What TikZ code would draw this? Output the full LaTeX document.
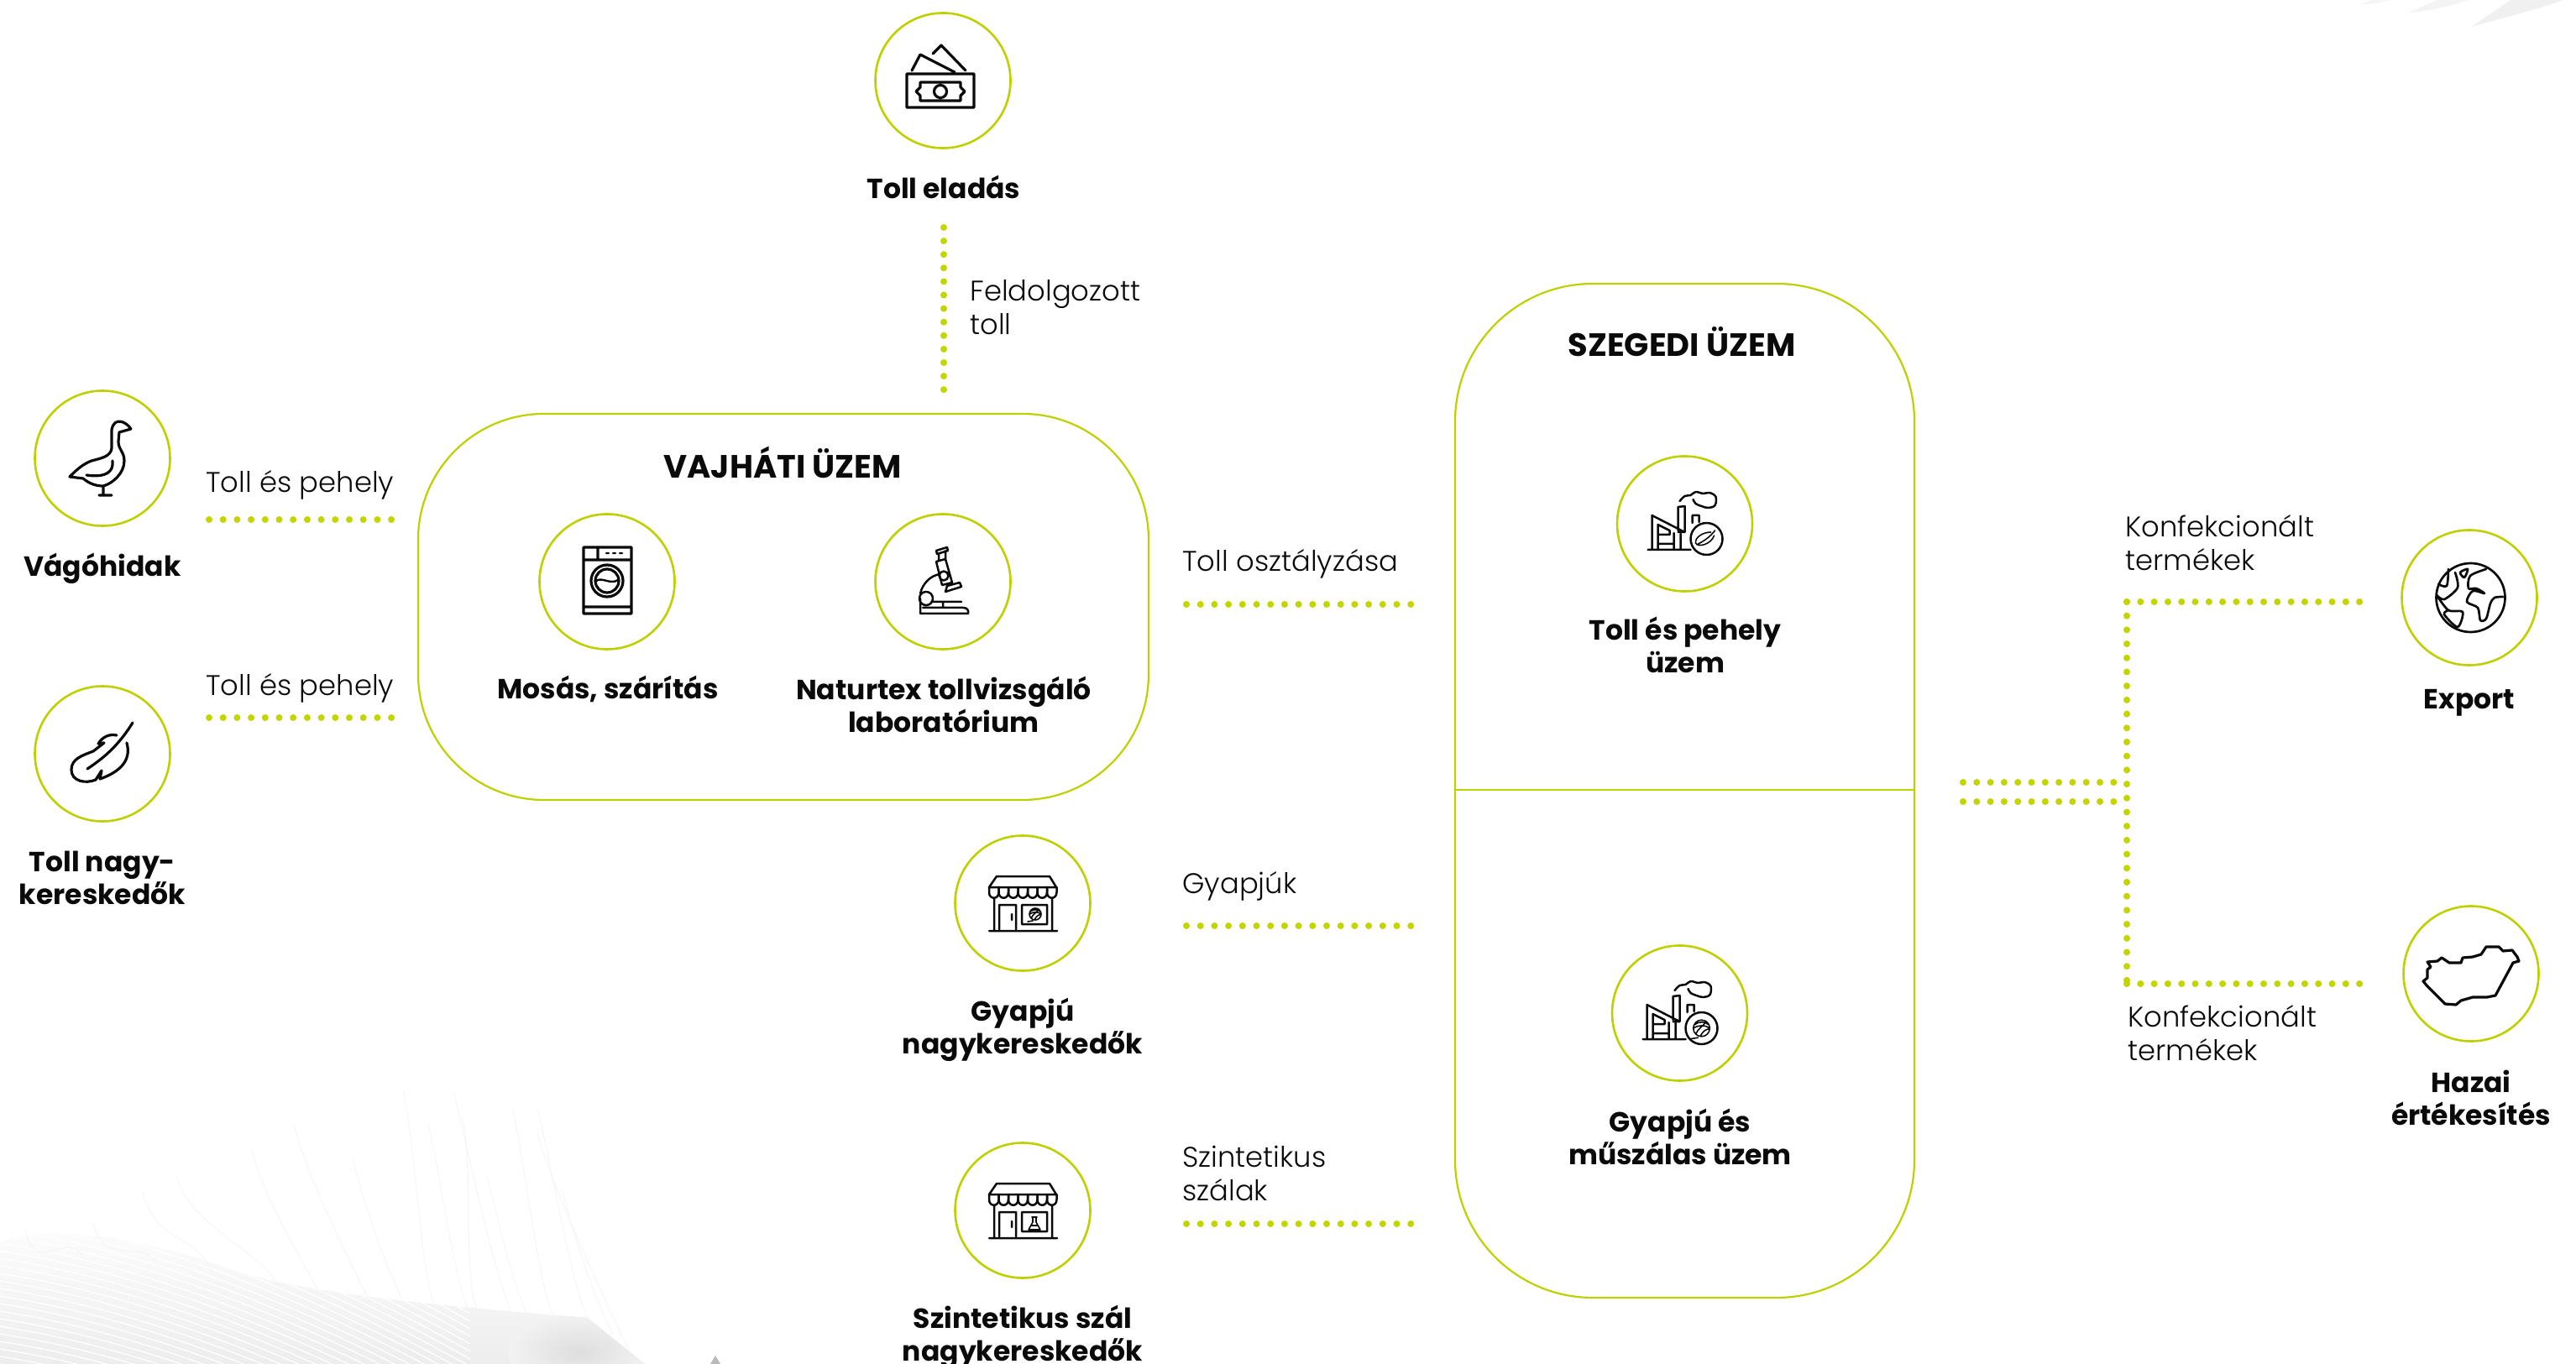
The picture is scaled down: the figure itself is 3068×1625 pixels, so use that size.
\documentclass[tikz,border=0pt]{standalone}
\usepackage{fontspec}
\setmainfont{Poppins}[UprightFont=* Light, BoldFont=* Bold]
\usetikzlibrary{positioning}
\definecolor{lime}{HTML}{C2D500}
\definecolor{ring}{HTML}{BFD000}
\definecolor{ink}{HTML}{0A0A0A}

\tikzset{
  % Box and label styles
  disc/.style={circle, draw=ring, line width=1.3pt, minimum size=80.5pt, inner sep=0pt},
  plant/.style={rectangle, draw=ring, line width=1.1pt, inner sep=0pt},
  head/.style={anchor=base, align=center, inner sep=0pt, text=ink,
    font=\fontsize{16.5}{19.5}\selectfont\bfseries},
  title/.style={head, font=\fontsize{19.2}{24}\selectfont\bfseries},
  flow/.style={anchor=base west, align=left, inner sep=0pt, text=ink,
    font=\fontsize{16.9}{20}\selectfont},
  % Connector and icon line styles
  dots/.style={draw=lime, line width=4pt, line cap=round, dash pattern=on 0pt off 8.35pt},
  tightdots/.style={dots, dash pattern=on 0pt off 8.15pt},
  icon/.style={draw=ink, line width=1.6pt, line join=round, line cap=round},
  fineicon/.style={icon, line width=1.25pt},
  thin/.style={draw=ink, line width=0.8pt, line join=round, line cap=round},
  % Icons, in reference pixels round the centre of their disc
  gooseicon/.pic={
    \draw[icon] (34,-35) .. controls (28,-44) and (14,-50) .. (11,-34) -- (11,-12)
      .. controls (10,-2) and (-2,0) .. (-13,3) .. controls (-24,7) and (-32,15) .. (-39,22)
      -- (-23,24) .. controls (-16,30) and (-8,33) .. (1,33) -- (1,44)
      (-4,44) -- (11,44)
      (1,33) .. controls (12,30) and (26,18) .. (26,3) .. controls (26,-8) and (19,-10) .. (19,-20)
      -- (20,-31) -- (34,-35)
      (-19,20) .. controls (-6,22) and (14,22) .. (12,3);
  },
  feathericon/.pic={
    \draw[icon] (36,-37) .. controls (18,-8) and (0,6) .. (-18,18)
      (17,-22) .. controls (8,-24) and (0,-20) .. (-5,-12) -- (2,-13) -- (-11,-3)
      .. controls (-24,2) and (-37,6) .. (-37,19) .. controls (-37,33) and (-20,36) .. (-8,31)
      -- (-1,20) -- (-3,30) .. controls (14,24) and (36,12) .. (29,-13);
  },
  moneyicon/.pic={
    \draw[icon] (-43,-8) rectangle (37,32)
      (-32,13) -- (-27,8) -- (-27,2) -- (21,2) -- (21,8) -- (26,13) -- (21,18) -- (21,24)
      -- (-27,24) -- (-27,18) -- cycle
      (-3,13) circle (7.5)
      (-37,-12) -- (-27,-31) -- (14,-10)
      (-12,-32) -- (-2,-42) -- (27,-12);
  },
  washicon/.pic={
    \draw[icon] (-28,-41) rectangle (29,38)
      (-28,-26) -- (29,-26) (-11,-41) -- (-11,-26) (-28,30) -- (29,30)
      (0,-1) circle (19) (0,-1) circle (14);
    \draw[thin, line width=1.2pt] (-1,-34) -- (2,-34) (7,-34) -- (10,-34) (15,-34) -- (18,-34)
      (-13,-1) .. controls (-6,-6) and (4,4) .. (13,-2);
  },
  scopeicon/.pic={
    \draw[fineicon] (-27,20) -- (-27,38) -- (30,38) .. controls (31,33) and (28,31) .. (24,31) -- (-24,31)
      (-14,24) -- (22,24) (0,24) -- (0,31)
      (-27,14) .. controls (-24,2) and (-15,-7) .. (-4,-9)
      (-8,-24) -- (3,-27) -- (11,1) -- (-1,4) -- cycle
      (3,12) -- (22,6) -- (20,1) -- (5,5) -- cycle
      (-8,-37) -- (5,-41) -- (6,-37) -- (-7,-33) -- cycle
      (-5,-33) -- (-5,-25) (3,-37) -- (3,-27)
      (1,-7) circle (5.5) (-20,20) circle (8);
  },
  shopbase/.pic={
    \draw[fineicon] (-31,-32) -- (32,-32) -- (40,-19) -- (-40,-19) -- cycle
      (-34,-6) -- (-34,33) (35,-6) -- (35,33) (-40,33) -- (41,33)
      (-28,31) -- (-28,2) -- (-8,2) -- (-8,31) (-1,2) rectangle (29,25) (-13,13) -- (-13,20);
    \foreach \sx in {-40,-28.5,-17,-5.5,6,17.5,29}
      \draw[fineicon] (\sx,-19) -- (\sx,-13) .. controls (\sx,-4) and (\sx+11.5,-4) .. (\sx+11.5,-13) -- (\sx+11.5,-19);
  },
  factorybase/.pic={
    \draw[fineicon] (-44,31) -- (7,31) (-39,31) -- (-39,-10) -- (0,10) -- (-8,10) (-5,12) -- (-5,31)
      (-8,8) -- (-8,-20) -- (0,-21) -- (0,10)
      (-32,31) -- (-32,1) -- (-18,8) -- (-18,13) -- (-32,13)
      (-32,24) -- (-13,24) -- (-13,31) (-13,11) -- (-13,24)
      (9,-1) -- (9,-10) -- (17,-10) -- (17,-2)
      (26,18) circle (19);
    \draw[fineicon] plot[smooth, tension=0.6] coordinates {(-6,-27) (0,-33) (7,-34) (13,-38) (22,-36)
      (30,-37) (37,-32) (36,-22) (28,-19) (20,-21) (13,-24) (10,-29)};
  },
  leafmark/.pic={
    \draw[thin] (10,-10) .. controls (4,-2) and (-4,3) .. (-10,6)
      (5,-8) .. controls (-4,-8) and (-14,-2) .. (-13,5) .. controls (-10,11) and (6,6) .. (9,-4);
  },
  woolmark/.pic={
    \draw[thin] (0,0) circle (7) (-6,-3) .. controls (-2,-6) and (3,-6) .. (6,-3)
      (-7,0) .. controls (-2,-3) and (3,-3) .. (7,0) (-5,5) .. controls (-3,0) and (2,-2) .. (4,-6)
      (-1,7) .. controls (1,2) and (5,0) .. (7,1) (-9,9) -- (-3,8);
  },
  flaskmark/.pic={
    \draw[thin] (-3,-8) -- (3,-8) (-2,-8) -- (-2,-2) -- (-7,7) -- (7,7) -- (2,-2) -- (2,-8)
      (-4,2) -- (4,2);
  },
  globeicon/.pic={
    \draw[icon, line width=1.35pt] (1.5,0) circle (41);
    \draw[icon, line width=1.35pt] plot[smooth, tension=0.5] coordinates {(40,-1) (30,0) (25,7) (20,25) (13,27) (10,12)
      (-3,5) (4,-8) (18,-5) (8,-11) (-1,-11) (1,-26) (20,-34)};
    \draw[icon, line width=1.35pt] plot[smooth, tension=0.5] coordinates {(-37,-16) (-27,-14) (-25,-34)};
    \draw[icon, line width=1.35pt] plot[smooth, tension=0.5] coordinates {(-17,-30) (-14,-12) (-30,2) (-39,-3)};
    \draw[icon, line width=1.35pt] plot[smooth, tension=0.5] coordinates {(-39,-3) (-25,15) (-8,17) (-14,35) (-30,20) (-25,15)};
    \draw[icon, line width=1.35pt] plot[smooth cycle, tension=0.5] coordinates {(-11,-30) (-2,-34) (-6,-24)};
  },
  hungaryicon/.pic={
    \draw[icon] (-52,-14) -- (-40,-15) -- (-35,-19) -- (-26,-13) -- (-12,-13) -- (-10,-19) -- (2,-20)
      -- (12,-23) -- (18,-32) -- (33,-32) -- (38,-27) -- (49,-28) -- (55,-20) -- (57,-15) -- (50,-13)
      -- (29,26) -- (19,28) -- (2,28) -- (-12,32) -- (-18,37) -- (-31,36) -- (-52,15) -- (-57,9)
      -- (-52,5) -- (-52,-5) -- (-48,-8) -- cycle;
  }
}

\begin{document}
\begin{tikzpicture}[x=0.5pt, y=-0.5pt]
\useasboundingbox (0,0) rectangle (3068,1625);
% -------------------------------------------------
% Faint feathers behind the diagram
\begin{scope}
  \clip (0,1480) .. controls (50,1462) and (130,1465) .. (255,1505)
    .. controls (340,1540) and (520,1555) .. (700,1570) -- (768,1625) -- (0,1625) -- cycle;
  \shade[top color=gray!2, bottom color=gray!14] (0,1465) rectangle (800,1625);
  \shade[inner color=gray!26, outer color=gray!10] (690,1610) ellipse (85 and 45);
  \foreach \i in {-24,...,16}
    \draw[white, line width=0.6pt] (-40,1485+\i*9) .. controls (100,1500+\i*9)
      and (300,1555+\i*9) .. (560,1700+\i*9);
\end{scope}
\foreach \ax/\ay/\bx/\by in {100/1500/30/1465, 190/1510/110/1455, 250/1510/170/1420, 330/1530/210/1400,
    380/1540/300/1370, 440/1550/350/1340, 480/1550/420/1380, 520/1560/480/1300, 560/1565/510/1340,
    570/1565/550/1330, 610/1565/540/1300, 630/1570/580/1400, 660/1570/610/1320, 700/1570/640/1320,
    730/1590/670/1420, 750/1610/640/1350}
  \draw[gray!8, line width=0.5pt] (\ax,\ay) .. controls (\ax-20,\ay-40) and (\bx+15,\by+60) .. (\bx,\by);
\fill[gray!55] (846,1625) -- (852,1615) -- (858,1625) -- cycle;
\fill[gray!12] (2943,32) -- (2990,0) -- (3053,0) .. controls (3020,12) and (2985,20) .. (2943,32);
\fill[gray!9] (2868,15) -- (2903,0) -- (2940,0) .. controls (2915,8) and (2890,14) .. (2868,15);
\fill[gray!8] (2810,5) -- (2825,0) -- (2847,0) .. controls (2835,3) and (2825,5) .. (2810,5);
% -------------------------------------------------
% The two plants
\node [plant, rounded corners=75pt, minimum width=435pt, minimum height=230pt] (vajhati) at (933,723) {};
\node [plant, rounded corners=82pt, minimum width=273.5pt, minimum height=604pt] (szeged) at (2006.5,942) {};
\coordinate (divider) at (0,941);
\draw [ring, line width=1.1pt] (szeged.west |- divider) -- (szeged.east |- divider);
% -------------------------------------------------
% Start by placing the discs with their icons
\node [disc] (goose) at (122,546) {};
\node [disc] (feather) at (122,898) {};
\node [disc] (money) at (1123,96) {};
\node [disc] (wash) at (723,693) {};
\node [disc] (lab) at (1123,693) {};
\node [disc] (shopwool) at (1218,1076) {};
\node [disc] (shopsynth) at (1218,1442) {};
\node [disc] (millfeather) at (2006.5,624) {};
\node [disc] (millwool) at (2000.5,1207) {};
\node [disc] (export) at (2941,712) {};
\node [disc] (domestic) at (2943,1160) {};
\pic at (goose) {gooseicon};
\pic at (feather) {feathericon};
\pic at (money) {moneyicon};
\pic at (wash) {washicon};
\pic at (lab) {scopeicon};
\pic at (shopwool) {shopbase};
\pic [xshift=7.5pt, yshift=-6.5pt] at (shopwool) {woolmark};
\pic at (shopsynth) {shopbase};
\pic [xshift=7pt, yshift=-8pt] at (shopsynth) {flaskmark};
\pic at (millfeather) {factorybase};
\pic [xshift=13pt, yshift=-9pt] at (millfeather) {leafmark};
\pic at (millwool) {factorybase};
\pic [xshift=13pt, yshift=-9pt, scale=1.4] at (millwool) {woolmark};
\pic at (export) {globeicon};
\pic at (domestic) {hungaryicon};
% -------------------------------------------------
% Bold captions; a two-line node has its base on the last line
\node [head] (goosetxt) at (122,687) {Vágóhidak};
\node [head] (feathertxt) at (122,1077) {Toll nagy-\\kereskedők};
\node [head] (moneytxt) at (1124,237) {Toll eladás};
\node [title] (vajhatitxt) at (932,570) {VAJHÁTI ÜZEM};
\node [head] (washtxt) at (724,833) {Mosás, szárítás};
\node [head] (labtxt) at (1124,872) {Naturtex tollvizsgáló\\laboratórium};
\node [head] (shopwooltxt) at (1218,1255) {Gyapjú\\nagykereskedők};
\node [head] (shopsynthtxt) at (1218,1621) {Szintetikus szál\\nagykereskedők};
\node [title] (szegedtxt) at (2003,425) {SZEGEDI ÜZEM};
\node [head] (millfeathertxt) at (2007,801) {Toll és pehely\\üzem};
\node [head] (millwooltxt) at (2001,1387) {Gyapjú és\\műszálas üzem};
\node [head] (exporttxt) at (2941,844) {Export};
\node [head] (domestictxt) at (2943,1340) {Hazai\\értékesítés};
% -------------------------------------------------
% Connector labels
\node [flow] (flow1) at (245,587) {Toll és pehely};
\node [flow] (flow2) at (245,828) {Toll és pehely};
\node [flow] (flow3) at (1155,399) {Feldolgozott\\toll};
\node [flow] (flow4) at (1408,681) {Toll osztályzása};
\node [flow] (flow5) at (1408,1064) {Gyapjúk};
\node [flow] (flow6) at (1408,1430) {Szintetikus\\szálak};
\node [flow] (flow7) at (2531,680) {Konfekcionált\\termékek};
\node [flow] (flow8) at (2534,1263) {Konfekcionált\\termékek};
% -------------------------------------------------
% Dotted connectors
\coordinate (in1) at (249,619);
\coordinate (in2) at (249,855);
\coordinate (in3) at (1124,271);
\coordinate (in4) at (1413,720);
\coordinate (in5) at (1413,1103);
\coordinate (in6) at (1413,1458);
\coordinate (out1) at (2338,932);
\coordinate (out2) at (2338,955);
\coordinate (jtop) at (2533,717);
\coordinate (jbot) at (2533,1172);
\draw [dots, shorten >=12pt] (in1) -- (in1 -| vajhati.west);
\draw [dots, shorten >=12pt] (in2) -- (in2 -| vajhati.west);
\draw [dots, dash pattern=on 0pt off 8.05pt, shorten >=13pt] (in3) -- (in3 |- vajhati.north);
\draw [dots, shorten >=24pt] (in4) -- (in4 -| szeged.west);
\draw [dots, shorten >=24pt] (in5) -- (in5 -| szeged.west);
\draw [dots, shorten >=24pt] (in6) -- (in6 -| szeged.west);
\draw [tightdots] (out1) -- (out1 -| jtop);
\draw [tightdots] (out2) -- (out2 -| jtop);
\draw [dots] (jtop) -- (jbot);
\draw [tightdots, shorten >=20pt] (jtop) -- (jtop -| export.west);
\draw [tightdots, shorten >=20pt] (jbot) -- (jbot -| domestic.west);
% -------------------------------------------------
\end{tikzpicture}
\end{document}
